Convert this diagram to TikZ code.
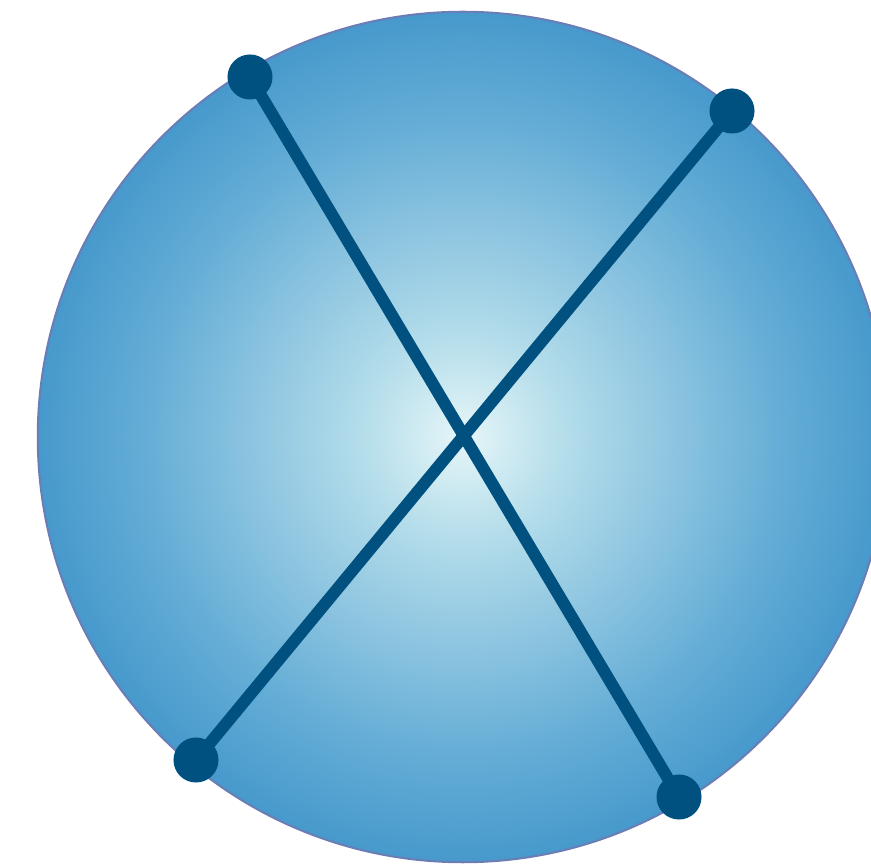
\documentclass[tikz,border=0pt]{standalone}
\usetikzlibrary{shadings}
\definecolor{ctr}{HTML}{E6F6F8}
\definecolor{qa}{HTML}{B2DCEA}
\definecolor{qb}{HTML}{8CC4E0}
\definecolor{qc}{HTML}{64ADD6}
\definecolor{edgec}{HTML}{4799CC}
\definecolor{rimc}{HTML}{6A7DB5}
\definecolor{dark}{HTML}{005080}
\pgfdeclareradialshading{globe}{\pgfpoint{0bp}{0bp}}{color(0bp)=(ctr); color(6.25bp)=(qa); color(12.5bp)=(qb); color(18.75bp)=(qc); color(25bp)=(edgec); color(50bp)=(edgec)}
\tikzset{
  dot/.style={circle, fill=dark, draw=none, minimum size=0.45cm, inner sep=0},
  rod/.style={draw=dark, line width=0.12cm}
}
\begin{document}
\begin{tikzpicture}[x=0.01cm,y=-0.01cm]
\useasboundingbox (0,0) rectangle (871,865);
\begin{scope}
\clip (0,0) rectangle (871,865);
\node[circle, minimum size=8.5cm, inner sep=0, shading=globe, draw=rimc, line width=0.02cm] (globe) at (463,437) {};
\end{scope}
\node[dot] (a) at (250,77) {};
\node[dot] (b) at (732,111) {};
\node[dot] (c) at (196,760) {};
\node[dot] (d) at (679,797) {};
\draw[rod] (a.center) -- (d.center);
\draw[rod] (b.center) -- (c.center);
\end{tikzpicture}
\end{document}
